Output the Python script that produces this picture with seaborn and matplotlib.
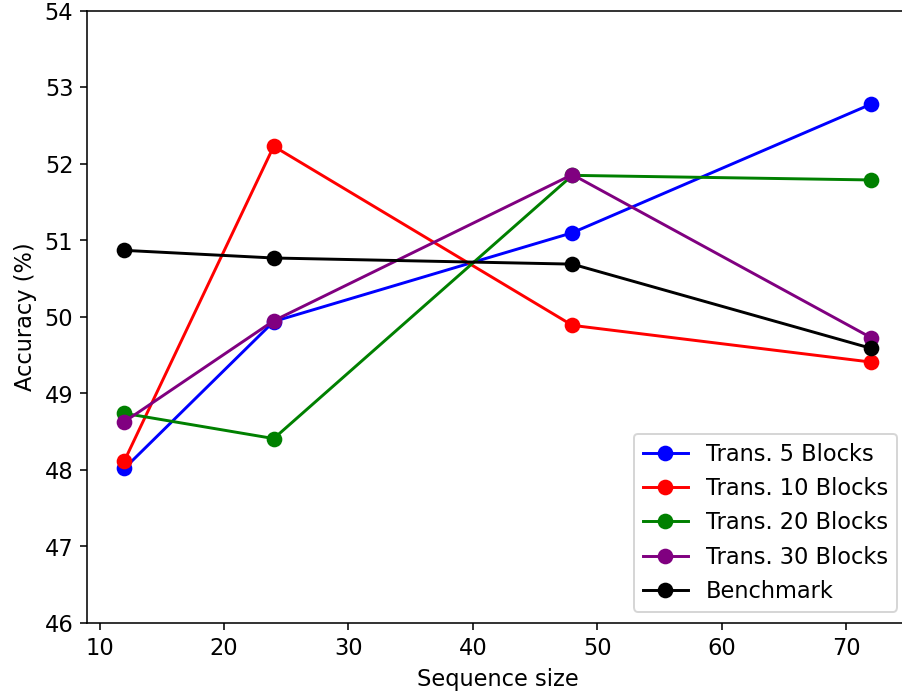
import matplotlib
matplotlib.use("Agg")
import matplotlib.pyplot as plt
import seaborn as sns
import pandas as pd

seq_sizes = [12, 24, 48, 72]
trans_5 = [48.02, 49.94, 51.10, 52.78]
trans_10 = [48.12, 52.23, 49.89, 49.41]
trans_20 = [48.74, 48.41, 51.85, 51.79]
trans_30 = [48.63, 49.95, 51.86, 49.73]
benchmark = [50.87, 50.77, 50.69, 49.59]

series_names = ["Trans. 5 Blocks", "Trans. 10 Blocks", "Trans. 20 Blocks",
                "Trans. 30 Blocks", "Benchmark"]
series_values = [trans_5, trans_10, trans_20, trans_30, benchmark]
colors = ["blue", "red", "green", "purple", "black"]

rows = []
for name, vals in zip(series_names, series_values):
    for s, v in zip(seq_sizes, vals):
        rows.append({"Sequence size": s, "Accuracy (%)": v, "Model": name})
df = pd.DataFrame(rows)

plt.rcParams["font.family"] = ["DejaVu Sans"]
FS = 11.5

fig = plt.figure(figsize=(6.4, 4.93), dpi=141)
ax = fig.add_axes([0.0965, 0.1036, 0.910, 0.8806])

sns.lineplot(data=df, x="Sequence size", y="Accuracy (%)", hue="Model",
             hue_order=series_names, palette=dict(zip(series_names, colors)),
             marker="o", markersize=8, markeredgewidth=0, linewidth=1.5,
             ax=ax)

ax.set_ylim(46, 54)
ax.set_xlim(9, 75)
ax.tick_params(labelsize=FS)
ax.set_xlabel("Sequence size", fontsize=FS)
ax.set_ylabel("Accuracy (%)", fontsize=FS)

ax.legend(loc="lower right", fontsize=FS)

fig.savefig("out.png", dpi=141)
